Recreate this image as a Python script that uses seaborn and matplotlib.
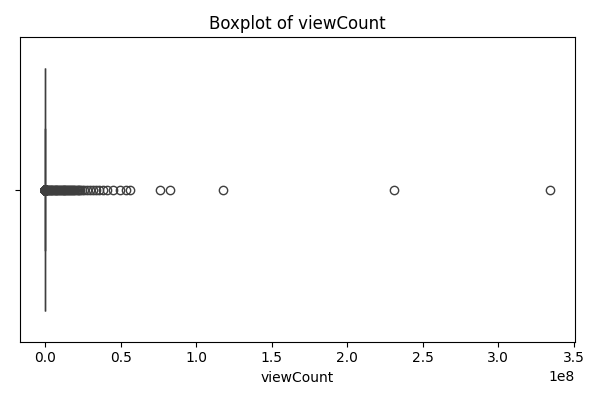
import numpy as np
import pandas as pd
import matplotlib
matplotlib.use("Agg")
import matplotlib.pyplot as plt
import seaborn as sns

# bulk of the videos (value, how many videos have roughly that many views)
bulk_views = [50, 200, 800, 2000, 5000, 10000, 20000, 40000, 70000, 100000]
bulk_counts = [300, 500, 600, 600, 600, 500, 400, 300, 200, 100]

# dense part of the tail, 1M - 25M
dense_tail = [1.2e6, 1.6e6, 2.1e6, 2.6e6, 3.1e6, 3.6e6, 4.2e6, 4.7e6, 5.3e6, 5.8e6,
              6.4e6, 6.9e6, 7.5e6, 8.1e6, 8.6e6, 9.2e6, 9.8e6, 10.4e6, 11.0e6, 11.6e6,
              12.2e6, 12.8e6, 13.4e6, 14.0e6, 14.7e6, 15.3e6, 16.0e6, 16.6e6, 17.3e6,
              18.0e6, 18.7e6, 19.4e6, 20.1e6, 20.9e6, 21.7e6, 22.5e6, 23.4e6, 24.3e6]

# sparser tail
far_tail = [26e6, 28e6, 30e6, 32e6, 34e6, 36e6, 38e6, 41e6, 45e6, 49.5e6,
            53.5e6, 56e6, 76e6, 83e6, 118e6, 231e6, 334e6]

views = np.concatenate([np.repeat(bulk_views, bulk_counts), dense_tail, far_tail])
df = pd.DataFrame({"viewCount": views})

plt.figure(figsize=(6, 4), dpi=100)
sns.boxplot(x=df["viewCount"])
plt.title("Boxplot of viewCount")
plt.tight_layout()
plt.savefig("out.png")
